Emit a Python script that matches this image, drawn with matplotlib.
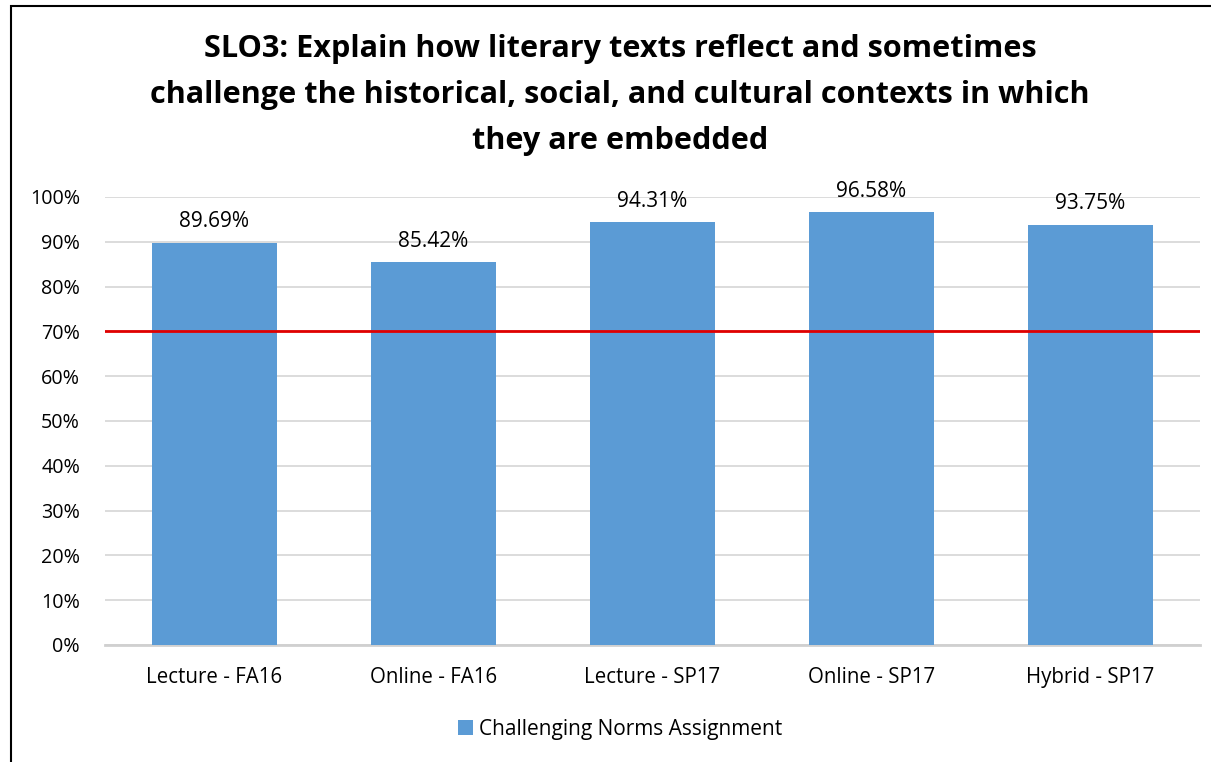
import matplotlib
matplotlib.use("Agg")
import matplotlib.pyplot as plt
from matplotlib.patches import Rectangle
from matplotlib.ticker import PercentFormatter

categories = ["Lecture - FA16", "Online - FA16", "Lecture - SP17", "Online - SP17", "Hybrid - SP17"]
values = [89.69, 85.42, 94.31, 96.58, 93.75]
labels = ["89.69%", "85.42%", "94.31%", "96.58%", "93.75%"]
target = 70
series_name = "Challenging Norms Assignment"
title = ("SLO3: Explain how literary texts reflect and sometimes\n"
         "challenge the historical, social, and cultural contexts in which\n"
         "they are embedded")

plt.rcParams['font.family'] = ['Open Sans', 'DejaVu Sans']

W, H = 1211, 762
fig = plt.figure(figsize=(W / 100, H / 100), dpi=100)
ax = fig.add_axes([105 / W, 1 - 645 / H, 1095 / W, (645 - 197) / H])

x = list(range(len(categories)))
bars = ax.bar(x, values, width=0.57, color="#5B9BD5", zorder=3, label=series_name)
for xi, v, lab in zip(x, values, labels):
    ax.text(xi, v + 2.4, lab, ha="center", va="bottom", fontsize=15, color="#000000")

ax.axhline(target, color="#E00000", lw=2, zorder=4)

ax.set_xlim(-0.5, len(categories) - 0.5)
ax.set_ylim(0, 100)
ax.set_yticks(range(0, 101, 10))
ax.yaxis.set_major_formatter(PercentFormatter(decimals=0))
ax.set_xticks(x)
ax.set_xticklabels(categories)
ax.tick_params(axis="x", length=0, labelsize=14.8, colors="#000000", pad=16)
ax.tick_params(axis="y", length=0, labelsize=14.2, colors="#000000", pad=18)
ax.grid(axis="y", color="#D9D9D9", lw=1.3, zorder=0)
for s in ["top", "right", "left"]:
    ax.spines[s].set_visible(False)
ax.spines["bottom"].set_color("#D0D0D0")
ax.spines["bottom"].set_linewidth(2)
ax.spines["bottom"].set_zorder(2)

fig.text(620 / W, 1 - 95 / H, title, ha="center", va="center", fontsize=22.1,
         fontweight="bold", linespacing=1.68)

leg = fig.legend(handles=[bars], labels=[series_name], loc="center",
                 bbox_to_anchor=(620 / W, 1 - 729 / H), frameon=False,
                 fontsize=15, handlelength=0.7, handleheight=0.7, handletextpad=0.3)

# chart border
fig.add_artist(Rectangle((11 / W, -0.05), 1.2, 1 - 6 / H + 0.05, transform=fig.transFigure,
                         fill=False, edgecolor="#000000", lw=1.5))

fig.savefig("out.png", dpi=100)
